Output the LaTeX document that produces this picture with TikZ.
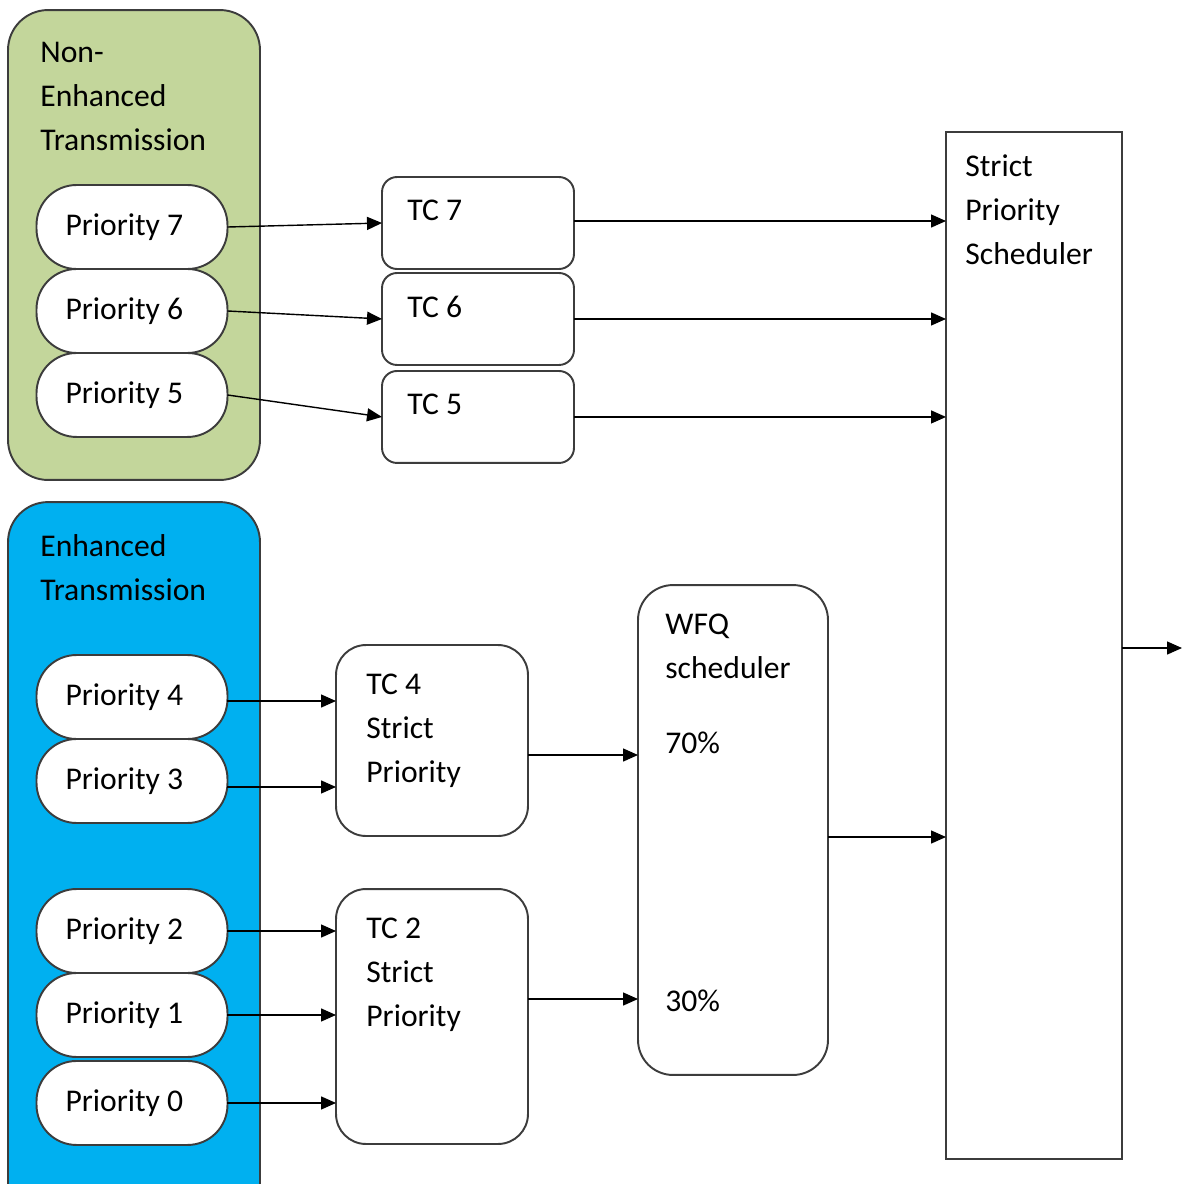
\documentclass[tikz,border=0pt]{standalone}
\usepackage{fontspec}
\setmainfont{Carlito}
\usepackage{xcolor}
\usepackage{tikz}
\usetikzlibrary{positioning,arrows.meta}
\definecolor{nongreen}{HTML}{C3D69B}
\definecolor{enhblue}{HTML}{00B0F0}
\definecolor{edge}{HTML}{3C3C3C}

\begin{document}
\begin{tikzpicture}[x=0.02cm,y=-0.02cm,
		every node/.style={font=\fontsize{18}{25}\selectfont},
		group/.style={draw=edge, line width=1.1pt, rounded corners=0.8cm, minimum width=5.04cm},
		prio/.style={draw=edge, fill=white, line width=1.1pt, rounded corners=0.8cm, minimum width=3.82cm, minimum height=1.68cm, outer sep=0pt, inner xsep=0.58cm, text width=2.66cm, align=flush left},
		tcbox/.style={draw=edge, fill=white, line width=1.1pt, rounded corners=0.3cm, minimum width=3.84cm, outer sep=0pt},
		txt/.style={anchor=north west, inner sep=0pt, align=left},
		arr/.style={-{Triangle[length=0.3cm,width=0.26cm]}, line width=0.8pt}]
		\useasboundingbox (0,0) rectangle (1182,1184);
		\clip (0,0) rectangle (1182,1184);
		
		% Draw the two groups of priorities
		\node (grpNE) [group, fill=nongreen, minimum height=9.4cm] at (134,245) {};
		\node (ttlNE) [txt] at (40,42) {Non-\\Enhanced\\Transmission};
		\node (grpE) [group, fill=enhblue, minimum height=14.56cm] at (134,866) {};
		\node (ttlE) [txt] at (40,534) {Enhanced\\Transmission};
		
		% Draw the priorities, stacked one below the other
		\node (p7) [prio] at (132,227) {Priority 7};
		\node (p6) [prio, below=0pt of p7] {Priority 6};
		\node (p5) [prio, below=0pt of p6] {Priority 5};
		\node (p4) [prio] at (132,697) {Priority 4};
		\node (p3) [prio, below=0pt of p4] {Priority 3};
		\node (p2) [prio] at (132,931) {Priority 2};
		\node (p1) [prio, below=0pt of p2] {Priority 1};
		\node (p0) [prio, below=0.08cm of p1] {Priority 0};
		
		% Draw the traffic classes
		\node (tc7) [tcbox, minimum height=1.84cm] at (478,223) {};
		\node (tc6) [tcbox, minimum height=1.84cm, below=0.08cm of tc7] {};
		\node (tc5) [tcbox, minimum height=1.84cm, below=0.12cm of tc6] {};
		\node (tc7lbl) [txt] at ([shift={(25,23)}]tc7.north west) {TC 7};
		\node (tc6lbl) [txt] at ([shift={(25,23)}]tc6.north west) {TC 6};
		\node (tc5lbl) [txt] at ([shift={(25,23)}]tc5.north west) {TC 5};
		\node (tc4) [tcbox, rounded corners=0.6cm, minimum height=3.82cm] at (432,740.5) {};
		\node (tc2) [tcbox, rounded corners=0.6cm, minimum height=5.1cm] at (432,1016.5) {};
		\node (tc4lbl) [txt] at ([shift={(30,29)}]tc4.north west) {TC 4\\Strict\\Priority};
		\node (tc2lbl) [txt] at ([shift={(30,29)}]tc2.north west) {TC 2\\Strict\\Priority};
		
		% Draw the two schedulers
		\node (wfq) [draw=edge, line width=1.1pt, rounded corners=0.7cm, minimum width=3.8cm, minimum height=9.8cm, outer sep=0pt] at (733,830) {};
		\node (wfqlbl) [txt] at ([shift={(27,29)}]wfq.north west) {WFQ\\scheduler};
		\node (w70) [txt] at (665,732) {70\%};
		\node (w30) [txt] at (665,990) {30\%};
		\node (sps) [draw=edge, line width=1.1pt, minimum width=3.52cm, minimum height=20.54cm, outer sep=0pt] at (1034,645.5) {};
		\node (spslbl) [txt] at ([shift={(19,22)}]sps.north west) {Strict\\Priority\\Scheduler};
		\coordinate (out) at (1182,648);
		
		% Connect priorities to traffic classes
		\draw[arr] (p7.east) -- (tc7.west);
		\draw[arr] (p6.east) -- (tc6.west);
		\draw[arr] (p5.east) -- (tc5.west);
		\draw[arr] ([yshift=-0.08cm]p4.east) -- ([yshift=-0.08cm]p4.east -| tc4.west);
		\draw[arr] ([yshift=-0.12cm]p3.east) -- ([yshift=-0.12cm]p3.east -| tc4.west);
		\draw[arr] (p2.east) -- (p2.east -| tc2.west);
		\draw[arr] (p1.east) -- (p1.east -| tc2.west);
		\draw[arr] (p0.east) -- (p0.east -| tc2.west);
		
		% Connect traffic classes to the schedulers
		\draw[arr] ([yshift=0.04cm]tc7.east) -- ([yshift=0.04cm]tc7.east -| sps.west);
		\draw[arr] (tc6.east) -- (tc6.east -| sps.west);
		\draw[arr] (tc5.east) -- (tc5.east -| sps.west);
		\draw[arr] ([yshift=-0.29cm]tc4.east) -- ([yshift=-0.29cm]tc4.east -| wfq.west);
		\draw[arr] ([yshift=0.35cm]tc2.east) -- ([yshift=0.35cm]tc2.east -| wfq.west);
		\draw[arr] ([yshift=-0.14cm]wfq.east) -- ([yshift=-0.14cm]wfq.east -| sps.west);
		\draw[arr] (sps.east |- out) -- (out);
	\end{tikzpicture}
\end{document}
